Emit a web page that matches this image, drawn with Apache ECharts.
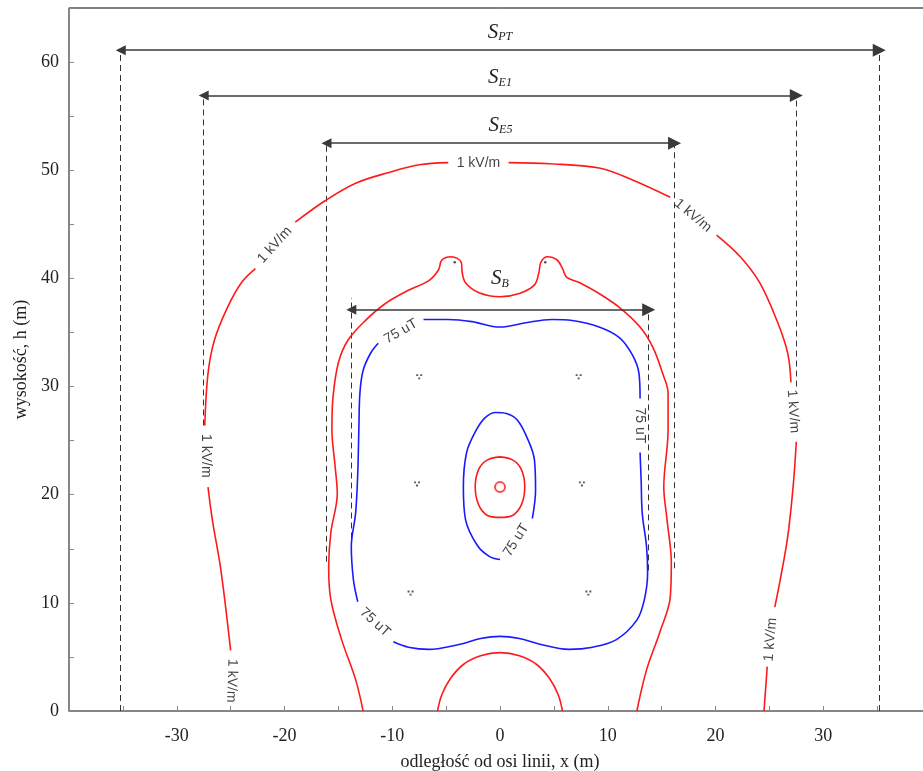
<!DOCTYPE html>
<html>
<head>
<meta charset="utf-8">
<script src="https://cdn.jsdelivr.net/npm/echarts/dist/echarts.min.js"></script>
<style>
  html, body { margin: 0; padding: 0; background: #fff; }
  #main { width: 923px; height: 771px; }
</style>
</head>
<body>
<div id="main"></div>
<script>
// tick labels shown on the axes
const xTicks = [-30, -20, -10, 0, 10, 20, 30];
const yTicks = [0, 10, 20, 30, 40, 50, 60];

// 1 kV/m contours (x m, h m), null = gap left for a label
const eOuter = [
  [-25.0, 5.6], [-25.9, 13.0], [-26.7, 17.7], [-27.1, 20.7], null,
  [-27.4, 26.4], [-27.1, 31.2], [-26.5, 34.3], [-25.3, 37.3], [-24.0, 39.6], [-22.7, 40.9], null,
  [-19.0, 45.2], [-16.2, 47.2], [-13.4, 48.8], [-10.3, 49.8], [-7.5, 50.5], [-4.8, 50.7], null,
  [0.8, 50.7], [4.6, 50.6], [9.2, 50.2], [12.3, 49.1], [15.8, 47.5], null,
  [20.1, 44.0], [22.3, 42.0], [24.1, 39.6], [25.7, 36.1], [26.7, 33.1], [27.0, 30.4], null,
  [27.5, 24.9], [27.2, 20.7], [26.7, 16.1], [26.0, 12.1], [25.5, 9.6], null,
  [24.8, 4.1], [24.5, 0]
];
const eMiddle = [
  [-12.7, 0], [-13.4, 2.9], [-14.7, 6.6], [-15.7, 10.3], [-15.9, 13.3], [-15.7, 16.5],
  [-15.1, 20.1], [-15.3, 22.6], [-15.6, 26.0], [-15.5, 29.0], [-15.0, 32.2], [-14.1, 34.3],
  [-12.5, 36.1], [-10.6, 37.7], [-8.5, 38.9], [-6.6, 39.8], [-5.7, 40.8], [-5.4, 41.7],
  [-4.5, 42.0], [-3.6, 41.5], [-3.5, 40.5], [-3.2, 39.6], [-2.0, 38.7], [0, 38.3],
  [1.8, 38.6], [3.2, 39.4], [3.6, 40.5], [3.8, 41.5], [4.4, 42.0], [5.3, 41.7],
  [5.8, 40.9], [6.2, 40.1], [7.4, 39.6], [9.2, 38.6], [11.1, 37.3], [13.0, 35.5],
  [14.2, 33.6], [15.1, 31.2], [15.6, 29.4], [15.6, 26.0], [15.2, 20.7], [15.5, 17.7],
  [15.9, 13.7], [15.8, 10.5], [14.8, 7.2], [13.6, 3.8], [12.7, 0]
];
const eGround = [
  [-5.8, 0], [-5.4, 1.5], [-4.6, 3.0], [-3.4, 4.3], [-1.8, 5.1], [0, 5.4],
  [1.8, 5.1], [3.4, 4.3], [4.6, 3.0], [5.4, 1.5], [5.8, 0]
];
const eCore = [
  [0, 23.5], [1.2, 23.2], [2.0, 22.3], [2.3, 20.7], [2.0, 19.1], [1.2, 18.1], [0, 17.9],
  [-1.2, 18.1], [-2.0, 19.1], [-2.3, 20.7], [-2.0, 22.3], [-1.2, 23.2], [0, 23.5]
];
const eCenter = [[0, 20.7]];

// 75 uT contours
const bOuter = [
  [-7.1, 36.2], [-4.8, 36.2], [-2.6, 36.0], [0, 35.5], [2.4, 35.9], [4.8, 36.2], [6.7, 36.1],
  [9.2, 35.5], [11.1, 34.5], [12.3, 32.9], [12.9, 31.2], [13.0, 28.9], null,
  [13.0, 23.9], [13.1, 21.3], [13.2, 18.3], [13.6, 15.2], [13.7, 12.8], [13.4, 10.3],
  [12.7, 8.4], [10.8, 6.6], [8.6, 5.9], [6.4, 5.7], [3.6, 6.2], [1.8, 6.7], [0, 6.9],
  [-1.8, 6.7], [-3.6, 6.2], [-6.6, 5.7], [-8.5, 5.9], [-9.9, 6.4], null,
  [-13.2, 10.1], [-13.6, 12.1], [-13.8, 15.2], [-13.4, 18.3], [-13.2, 22.0], [-13.1, 26.0],
  [-13.0, 29.4], [-12.7, 31.5], [-12.0, 33.1], [-11.3, 34.0]
];
const bLens = [
  [3.0, 17.8], [3.3, 20.4], [3.2, 23.2], [2.5, 25.3], [1.6, 26.9], [0.6, 27.5], [-0.4, 27.6],
  [-1.4, 27.1], [-2.3, 25.8], [-3.1, 23.9], [-3.4, 20.7], [-3.2, 17.7], [-2.1, 15.3],
  [-1.0, 14.3], [0, 14.0]
];

// conductors and ground wires
const conductors = [[-7.5, 30.9], [7.3, 30.9], [-7.7, 21.0], [7.6, 21.0], [-8.3, 10.9], [8.2, 10.9]];
const groundWires = [[-4.2, 41.5], [4.2, 41.5]];

// zone widths: [x left, x right, h of arrow, subscript]
const spans = [
  [-35.2, 35.2, 61.1, 'PT'],
  [-27.5, 27.5, 56.9, 'E1'],
  [-16.1, 16.2, 52.5, 'E5'],
  [-13.8, 13.8, 37.1, 'B']
];
// dashed limits: [x, h from, h to]
const spanEdges = [
  [-35.2, 0, 61.1], [35.2, 0, 61.1],
  [-27.5, 26.4, 56.9], [27.5, 30.0, 56.9],
  [-16.1, 13.8, 52.5], [16.2, 13.2, 52.5],
  [-13.8, 14.1, 38.2], [13.8, 13.0, 37.1]
];

// contour labels: [x, h, angle, text]
const contourLabels = [
  [-2.0, 50.7, 0, '1 kV/m'],
  [-20.9, 43.1, 48, '1 kV/m'],
  [17.9, 45.8, -40, '1 kV/m'],
  [27.2, 27.7, -86, '1 kV/m'],
  [-27.3, 23.6, -90, '1 kV/m'],
  [-24.9, 2.8, -92, '1 kV/m'],
  [25.1, 6.6, 85, '1 kV/m'],
  [-9.2, 35.1, 30, '75 uT'],
  [13.0, 26.4, -90, '75 uT'],
  [-11.6, 8.2, -42, '75 uT'],
  [1.5, 15.8, 58, '75 uT']
];

const RED = '#ff1a1a';
const BLUE = '#1a1aff';

function segments(pts) {
  const out = [[]];
  pts.forEach(p => {
    if (p === null) out.push([]);
    else out[out.length - 1].push(p);
  });
  return out.filter(s => s.length > 1);
}

const series = [];
function addContour(pts, color) {
  segments(pts).forEach(seg => {
    series.push({
      type: 'line', data: seg, smooth: 0.35, symbol: 'none',
      lineStyle: { color: color, width: 1.6 }, z: 3
    });
  });
}
addContour(eOuter, RED);
addContour(eMiddle, RED);
addContour(eGround, RED);
addContour(eCore, RED);
addContour(bOuter, BLUE);
addContour(bLens, BLUE);

series.push({
  type: 'scatter', data: eCenter, symbol: 'emptyCircle', symbolSize: 10,
  itemStyle: { color: RED, borderColor: RED, borderWidth: 1.6 }, z: 3
});

series.push({
  type: 'lines', coordinateSystem: 'cartesian2d',
  data: spanEdges.map(([x, a, b]) => ({ coords: [[x, a], [x, b]] })),
  lineStyle: { color: '#333', width: 1, type: [6, 4], opacity: 1 }, symbol: 'none', z: 2
});

series.push({
  type: 'lines', coordinateSystem: 'cartesian2d',
  data: spans.map(([a, b, h, sub]) => ({
    coords: [[a, h], [b, h]],
    label: { formatter: '{s|S}{t|' + sub + '}', distance: sub === 'B' ? 20 : 7 }
  })),
  symbol: ['triangle', 'triangle'], symbolSize: [10, 13],
  lineStyle: { color: '#3a3a3a', width: 1.6, opacity: 1 },
  label: {
    show: true, position: 'middle',
    rich: {
      s: { fontFamily: 'Liberation Serif', fontStyle: 'italic', fontSize: 21, color: '#222' },
      t: { fontFamily: 'Liberation Serif', fontStyle: 'italic', fontSize: 12, color: '#222', padding: [10, 0, 0, 0] }
    }
  },
  z: 4
});

series.push({
  type: 'scatter', data: conductors,
  symbol: 'path://M0,0h2v2h-2z M4,0h2v2h-2z M2,3.6h2v2h-2z', symbolSize: [6, 5],
  itemStyle: { color: '#333' }, z: 4
});
series.push({
  type: 'scatter', data: groundWires, symbol: 'circle', symbolSize: 2.5,
  itemStyle: { color: '#222' }, z: 4
});

series.push({
  type: 'scatter', symbol: 'circle', symbolSize: 0,
  data: contourLabels.map(([x, h, a, t]) => ({ value: [x, h], label: { rotate: a, formatter: t } })),
  label: {
    show: true, position: 'inside', color: '#111',
    fontFamily: 'Liberation Sans', fontSize: 14
  },
  z: 5
});

const axisFont = { fontFamily: 'Liberation Serif', fontSize: 18, color: '#222' };

const chart = echarts.init(document.getElementById('main'), null, { renderer: 'canvas' });
chart.setOption({
  animation: false,
  backgroundColor: '#fff',
  grid: {
    left: 69, top: 8, width: 862, height: 703, show: true,
    borderColor: '#000', borderWidth: 1,
    containLabel: false, outerBoundsMode: 'none'
  },
  xAxis: {
    type: 'value', min: -40, max: 40, interval: 5,
    name: 'odległość od osi linii, x (m)', nameLocation: 'middle', nameGap: 42,
    nameTextStyle: axisFont,
    axisLine: { onZero: false, lineStyle: { color: '#888', width: 1.5 } },
    axisTick: { inside: true, length: 5, lineStyle: { color: '#888' } },
    axisLabel: Object.assign({ margin: 16, formatter: v => xTicks.includes(v) ? String(v) : '' }, axisFont),
    splitLine: { show: false }
  },
  yAxis: {
    type: 'value', min: 0, max: 65, interval: 5,
    name: 'wysokość, h (m)', nameLocation: 'middle', nameGap: 36,
    nameTextStyle: axisFont,
    axisLine: { show: true, onZero: false, lineStyle: { color: '#888', width: 1.5 } },
    axisTick: { show: true, inside: true, length: 5, lineStyle: { color: '#888' } },
    axisLabel: Object.assign({ margin: 10, formatter: v => yTicks.includes(v) ? String(v) : '' }, axisFont),
    splitLine: { show: false }
  },
  series: series
});
</script>
</body>
</html>
